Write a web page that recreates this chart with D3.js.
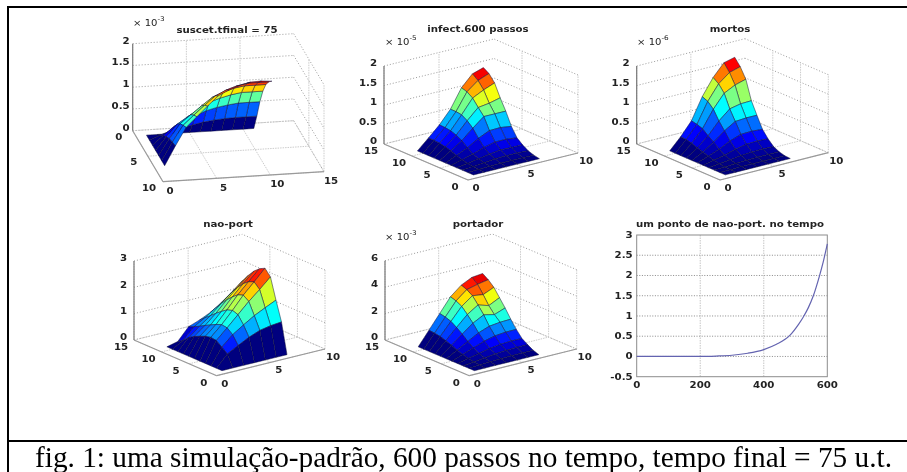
<!DOCTYPE html>
<html>
<head>
<meta charset="utf-8">
<script src="https://cdnjs.cloudflare.com/ajax/libs/d3/7.8.5/d3.min.js"></script>
<style>
  html, body { margin: 0; background: #fff; }
  svg { display: block; }
  text { font-family: "DejaVu Sans", sans-serif; fill: #222; }
</style>
</head>
<body>
<svg class="chart"></svg>
<script>
// surface values, rows are x nodes, columns are y nodes
const suscet = [
  [0, 0, 0, 0, 0, 0, 0],
  [0, .10, .21, .30, .37, .41, .44],
  [0, .19, .40, .57, .70, .78, .85],
  [0, .24, .51, .73, .89, 1.00, 1.08],
  [0, .29, .62, .88, 1.08, 1.21, 1.31],
  [0, .34, .72, 1.03, 1.26, 1.41, 1.53],
  [0, .37, .78, 1.11, 1.36, 1.53, 1.65],
  [0, .39, .82, 1.17, 1.44, 1.61, 1.74],
  [0, .40, .85, 1.21, 1.48, 1.66, 1.80],
  [0, .40, .85, 1.21, 1.48, 1.66, 1.81],
  [0, .40, .85, 1.21, 1.48, 1.66, 1.79]
];
const infect = [
  [0, 0, 0, 0, 0, 0, 0, 0, 0, 0, 0],
  [0, .01, .02, .04, .07, .12, .18, .22, .25, .26, .26],
  [0, .02, .05, .09, .15, .25, .37, .45, .50, .52, .53],
  [0, .03, .08, .14, .25, .42, .62, .75, .84, .86, .86],
  [0, .03, .09, .18, .32, .55, .85, 1.02, 1.20, 1.30, 1.34],
  [0, .03, .09, .17, .32, .56, .85, 1.06, 1.34, 1.52, 1.63],
  [0, .03, .08, .17, .29, .52, .85, 1.13, 1.45, 1.63, 1.72]
];
const mortos = [
  [0, 0, 0, 0, 0, 0, 0, 0, 0, 0, 0],
  [0, 0, .01, .03, .06, .10, .15, .19, .25, .28, .29],
  [0, .01, .03, .06, .12, .21, .33, .43, .55, .60, .63],
  [0, .01, .04, .10, .20, .35, .55, .74, .98, 1.12, 1.18],
  [0, .01, .05, .12, .26, .45, .72, .98, 1.32, 1.50, 1.60],
  [0, .01, .05, .13, .27, .46, .74, 1.04, 1.46, 1.72, 1.91],
  [0, .01, .05, .12, .26, .44, .74, 1.05, 1.54, 1.80, 1.98]
];
const naoPort = [
  [0, 0, 0, 0, 0, 0, 0, 0, 0, 0, 0],
  [0, .44, .61, .77, .80, .75, .66, .56, .43, .23, .10],
  [0, .66, .98, 1.15, 1.18, 1.10, .99, .88, .76, .65, .56],
  [0, .87, 1.25, 1.55, 1.62, 1.55, 1.40, 1.24, 1.06, .89, .71],
  [0, 1.03, 1.50, 1.95, 2.10, 2.02, 1.85, 1.65, 1.42, 1.16, .90],
  [0, 1.11, 1.70, 2.30, 2.50, 2.42, 2.25, 2.02, 1.76, 1.46, 1.14],
  [0, 1.15, 1.89, 2.68, 2.92, 2.81, 2.63, 2.38, 2.10, 1.76, 1.48]
];
const portador = [
  [0, 0, 0, 0, 0, 0, 0, 0, 0, 0, 0],
  [0, .04, .10, .18, .30, .45, .64, .80, .94, 1.01, 1.06],
  [0, .08, .20, .36, .60, .90, 1.28, 1.60, 1.88, 2.03, 2.12],
  [0, .12, .30, .53, .90, 1.35, 1.90, 2.38, 2.82, 3.05, 3.18],
  [0, .14, .36, .64, 1.10, 1.65, 2.33, 2.90, 3.42, 3.70, 3.86],
  [0, .15, .39, .69, 1.18, 1.75, 2.15, 2.65, 3.30, 3.90, 4.25],
  [0, .15, .40, .68, 1.19, 1.78, 2.45, 3.05, 3.65, 4.05, 4.34]
];

// node coordinates of the surfaces
const shortNodes = [1, 2, 3, 4, 5, 6, 7];
const longNodes = [1, 2, 3, 4, 5, 6, 7, 8, 9, 10, 11];

// tick labels
const ticks5 = [0, 5, 10];
const ticks15 = [0, 5, 10, 15];
const zTicks2 = [0, 0.5, 1, 1.5, 2];
const zTicks3 = [0, 1, 2, 3];
const zTicks6 = [0, 2, 4, 6];

// line panel
const timeSteps = [0, 100, 200, 250, 300, 350, 400, 440, 482, 510, 524, 540, 556, 575, 587, 600];
const pointValues = [0, 0, 0, .01, .03, .08, .17, .30, .52, .80, .97, 1.20, 1.50, 1.98, 2.33, 2.78];
const timeTicks = [0, 200, 400, 600];
const valueTicks = [-0.5, 0, 0.5, 1, 1.5, 2, 2.5, 3];

const caption = "fig. 1: uma simulação-padrão, 600 passos no tempo, tempo final = 75 u.t.";

const width = 907;
const height = 472;

const svg = d3.select("svg.chart")
  .attr("width", width)
  .attr("height", height)
  .attr("viewBox", `0 0 ${width} ${height}`);

svg.append("defs").append("filter")
  .attr("id", "soft")
  .attr("filterUnits", "userSpaceOnUse")
  .attr("x", 0).attr("y", 0).attr("width", width).attr("height", height)
  .append("feGaussianBlur")
  .attr("stdDeviation", 0.55);

const plots = svg.append("g").attr("filter", "url(#soft)");

const jet = d3.scaleLinear()
  .domain([0, .125, .375, .625, .875, 1])
  .range(["#00007f", "#0000ff", "#00ffff", "#ffff00", "#ff0000", "#7f0000"])
  .clamp(true);

// the labels in the original are stretched sideways
function label(parent, pos, text, anchor, size = 8) {
  return parent.append("text")
    .attr("transform", `translate(${pos[0]},${pos[1]}) scale(1.28,1)`)
    .attr("dy", "0.35em")
    .attr("text-anchor", anchor)
    .attr("font-size", size)
    .attr("font-weight", 700)
    .text(text);
}

// 3d axes are drawn from one scale per direction, each giving a screen offset
function surfacePanel(p) {
  const g = plots.append("g");
  const sx = d3.scaleLinear().domain([0, p.xMax]).range([[0, 0], p.xVec]);
  const sy = d3.scaleLinear().domain([0, p.yMax]).range([[0, 0], p.yVec]);
  const sz = d3.scaleLinear().domain([0, p.zMax]).range([0, -p.zLen]);
  const project = (x, y, z) => {
    const a = sx(x), b = sy(y);
    return [p.origin[0] + a[0] + b[0], p.origin[1] + a[1] + b[1] + sz(z)];
  };
  const line = pts => "M" + pts.map(d => project(...d).join(",")).join("L");

  // back walls, floor and gridlines
  const backX = p.wallX, backY = p.wallY;
  const grid = g.append("g").attr("fill", "none");
  const dotted = d => grid.append("path").attr("d", line(d))
    .attr("stroke", "#8f8f8f").attr("stroke-width", 0.9).attr("stroke-dasharray", "1 2");
  const pale = d => grid.append("path").attr("d", line(d))
    .attr("stroke", "#c6c6c6").attr("stroke-width", 0.9).attr("stroke-dasharray", "1.5 1");

  p.zTicks.forEach(z => {
    dotted([[backX, 0, z], [backX, p.yMax, z]]);
    dotted([[0, backY, z], [p.xMax, backY, z]]);
  });
  p.xTicks.forEach(x => {
    if (x !== backX) pale([[x, backY, 0], [x, backY, p.zMax]]);
    pale([[x, 0, 0], [x, p.yMax, 0]]);
  });
  p.yTicks.forEach(y => {
    if (y !== backY) pale([[backX, y, 0], [backX, y, p.zMax]]);
    pale([[0, y, 0], [p.xMax, y, 0]]);
  });

  // axis lines
  const axes = g.append("g").attr("fill", "none").attr("stroke", "#9a9a9a").attr("stroke-width", 1.2);
  axes.append("path").attr("d", line(p.zAxis)).attr("stroke", "#777");
  axes.append("path").attr("d", line(p.xAxis));
  axes.append("path").attr("d", line(p.yAxis));

  // surface, back cells first; a cell takes the colour of its lowest corner
  const zTop = d3.max(p.values.flat());
  const cells = [];
  p.values.slice(0, -1).forEach((row, i) => row.slice(0, -1).forEach((_, j) => {
    cells.push({ i, j });
  }));
  cells.sort((a, b) => p.depth(b, a));

  g.append("g").selectAll("path")
    .data(cells)
    .join("path")
    .attr("d", ({ i, j }) => line([
      [p.xNodes[i], p.yNodes[j], p.values[i][j]],
      [p.xNodes[i + 1], p.yNodes[j], p.values[i + 1][j]],
      [p.xNodes[i + 1], p.yNodes[j + 1], p.values[i + 1][j + 1]],
      [p.xNodes[i], p.yNodes[j + 1], p.values[i][j + 1]]
    ]) + "Z")
    .attr("fill", ({ i, j }) => jet(p.values[i][j] / zTop))
    .attr("stroke", "#14143c")
    .attr("stroke-width", 0.5)
    .attr("stroke-linejoin", "round");

  // tick labels
  const labels = g.append("g");
  const offset = (pos, off) => [pos[0] + off[0], pos[1] + off[1]];
  p.zTicks.forEach(z => label(labels, offset(project(p.zAxis[0][0], p.zAxis[0][1], z), p.zOff), z, "end"));
  p.xTicks.forEach(x => label(labels, offset(project(x, p.xLabelAt, 0), p.xOff), x, "middle"));
  p.yTicks.forEach(y => label(labels, offset(project(p.yLabelAt, y, 0), p.yOff), y, "middle"));

  panelText(p);
}

function panelText(p) {
  label(plots, p.titleAt, p.title, "middle");
  if (p.exponent) {
    const t = plots.append("text")
      .attr("transform", `translate(${p.expAt[0]},${p.expAt[1]}) scale(1.12,1)`)
      .attr("dy", "0.35em")
      .attr("font-size", 9)
      .text("× 10");
    t.append("tspan").attr("dy", -5).attr("font-size", 6.5).text(p.exponent);
  }
}

const frontView = {
  xMax: 10, yMax: 15, wallX: 10, wallY: 15,
  xTicks: ticks5, yTicks: ticks15,
  xNodes: shortNodes, yNodes: longNodes,
  xLabelAt: 0, yLabelAt: 0,
  xOff: [8, 8], yOff: [-13, 7.5], zOff: [-7, -2.5],
  xAxis: [[0, 0, 0], [10, 0, 0]],
  yAxis: [[0, 0, 0], [0, 15, 0]],
  depth: (a, b) => (a.i + a.j) - (b.i + b.j)
};

const panels = [
  {
    title: "suscet.tfinal = 75", titleAt: [227, 30], exponent: "-3", expAt: [133, 23],
    values: suscet, zTicks: zTicks2, zMax: 2, zLen: 87,
    origin: [132.7, 130.7], xVec: [161, -10], yVec: [30.3, 51],
    xMax: 15, yMax: 10, wallX: 15, wallY: 0,
    xTicks: ticks15, yTicks: ticks5,
    xNodes: longNodes, yNodes: shortNodes,
    xLabelAt: 10, yLabelAt: 0,
    xOff: [7, 9.5], yOff: [-14, 6], zOff: [-3, -3],
    zAxis: [[0, 0, 0], [0, 0, 2]],
    xAxis: [[0, 10, 0], [15, 10, 0]],
    yAxis: [[0, 0, 0], [0, 10, 0]],
    depth: (a, b) => (b.j - a.j) * 100 + (a.i - b.i)
  },
  {
    ...frontView,
    title: "infect.600 passos", titleAt: [478, 29], exponent: "-5", expAt: [385, 42],
    values: infect, zTicks: zTicks2, zMax: 2, zLen: 78,
    origin: [468, 180], xVec: [110, -27], yVec: [-84, -36],
    zAxis: [[0, 15, 0], [0, 15, 2]]
  },
  {
    ...frontView,
    title: "mortos", titleAt: [730, 29], exponent: "-6", expAt: [637, 42],
    values: mortos, zTicks: zTicks2, zMax: 2, zLen: 78,
    origin: [720, 180], xVec: [108.3, -27.3], yVec: [-83.3, -36],
    zAxis: [[0, 15, 0], [0, 15, 2]]
  },
  {
    ...frontView,
    title: "nao-port", titleAt: [228, 224],
    values: naoPort, zTicks: zTicks3, zMax: 3, zLen: 79,
    origin: [216.7, 375.7], xVec: [108.3, -26.7], yVec: [-82.7, -35.7],
    zAxis: [[0, 15, 0], [0, 15, 3]]
  },
  {
    ...frontView,
    title: "portador", titleAt: [478, 224], exponent: "-3", expAt: [385, 237],
    values: portador, zTicks: zTicks6, zMax: 6, zLen: 79.3,
    origin: [469.3, 375.7], xVec: [107.4, -26.7], yVec: [-84.3, -35.7],
    zAxis: [[0, 15, 0], [0, 15, 6]]
  }
];

panels.forEach(surfacePanel);

// line panel
function linePanel() {
  const marginLeft = 636.7, marginRight = 827.3, marginTop = 235, marginBottom = 376.7;
  const x = d3.scaleLinear().domain([0, 600]).range([marginLeft, marginRight]);
  const y = d3.scaleLinear().domain([-0.5, 3]).range([marginBottom, marginTop]);
  const g = plots.append("g");

  g.append("g").selectAll("line")
    .data(valueTicks.slice(1, -1))
    .join("line")
    .attr("x1", marginLeft).attr("x2", marginRight)
    .attr("y1", d => y(d)).attr("y2", d => y(d))
    .attr("stroke", "#7d7d7d").attr("stroke-width", 0.9).attr("stroke-dasharray", "1 1.6");

  g.append("g").selectAll("line")
    .data(timeTicks.slice(1, -1))
    .join("line")
    .attr("x1", d => x(d)).attr("x2", d => x(d))
    .attr("y1", marginTop).attr("y2", marginBottom)
    .attr("stroke", "#c6c6c6").attr("stroke-width", 1).attr("stroke-dasharray", "1.5 1");

  g.append("rect")
    .attr("x", marginLeft).attr("y", marginTop)
    .attr("width", marginRight - marginLeft).attr("height", marginBottom - marginTop)
    .attr("fill", "none").attr("stroke", "#8c8c8c").attr("stroke-width", 1);

  g.append("path")
    .datum(timeSteps.map((t, i) => [t, pointValues[i]]))
    .attr("fill", "none")
    .attr("stroke", "#6464b0")
    .attr("stroke-width", 1.2)
    .attr("d", d3.line().curve(d3.curveMonotoneX).x(d => x(d[0])).y(d => y(d[1])));

  const labels = g.append("g");
  valueTicks.forEach(d => label(labels, [marginLeft - 4, y(d)], d, "end"));
  timeTicks.forEach(d => label(labels, [x(d), marginBottom + 8], d, "middle"));

  panelText({ title: "um ponto de nao-port. no tempo", titleAt: [730, 224] });
}
linePanel();

// table rules and caption
const rules = svg.append("g").attr("stroke", "#000").attr("stroke-width", 2);
rules.append("line").attr("x1", 7).attr("x2", width).attr("y1", 7).attr("y2", 7);
rules.append("line").attr("x1", 8).attr("x2", 8).attr("y1", 6).attr("y2", height);
rules.append("line").attr("x1", 7).attr("x2", width).attr("y1", 441).attr("y2", 441);

svg.append("text")
  .attr("x", 35).attr("y", 467)
  .style("font-family", '"Liberation Serif", serif')
  .style("fill", "#000")
  .attr("font-size", 29.3)
  .text(caption);
</script>
</body>
</html>
